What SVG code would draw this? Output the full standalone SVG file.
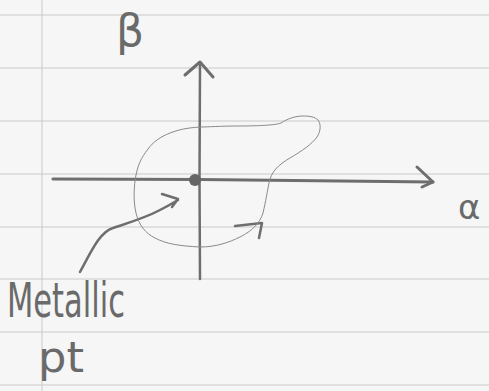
<svg xmlns="http://www.w3.org/2000/svg" width="489" height="391" viewBox="0 0 489 391">
<style>
.rule{stroke:#cacaca;stroke-width:1;fill:none}
.pen{stroke:#6e6e6e;fill:none;stroke-linecap:round;stroke-linejoin:round}
.thin{stroke:#8a8a8a;stroke-width:1;fill:none}
.hand{font-family:"DejaVu Sans","Liberation Sans",sans-serif;fill:#6a6a6a}
</style>
<rect width="489" height="391" fill="#f6f6f6"/>
<g id="paper">
<path class="rule" d="M0 15H489M0 68H489M0 121H489M0 174H489M0 227H489M0 279H489M0 332H489M0 385H489"/>
<line class="rule" x1="42" y1="0" x2="42" y2="391"/>
</g>
<g id="connectors">
<path class="pen" stroke-width="3" d="M53 179 L200 179.5 L433 182"/>
<path class="pen" stroke-width="3" d="M417 167 L433 182 L422 187"/>
<path class="pen" stroke-width="2.5" d="M200 64 L199.5 180 L200 279"/>
<path class="pen" stroke-width="3" d="M185 75 L200 62 L213 77"/>
<path class="pen" stroke-width="2.5" d="M80 272 C92 250 100 232 113 228 C128 223 145 218 160 210 C168 206 173 203 178 200 M162 194 L178 199 L172 207"/>
<path class="pen" stroke-width="2.5" d="M235 226 L262 223 L259 238"/>
</g>
<g id="region">
<path class="thin" d="M200 127 C185 128 178 130 170 133 C160 137 153 142 148 149 C141 158 138 165 136 175 C134 185 133 200 136 213 C139 225 145 233 155 238 C166 244 180 246 200 247 C215 247 228 243 240 237 C252 231 260 223 263 213 C266 200 267 193 269 183 C271 172 278 165 290 158 C302 151 312 144 317 137 C321 131 321 124 318 120 C315 117 310 116 303 116 C295 116 287 119 281 123 C276 125 260 126 237 126 C220 126 210 127 200 127 Z"/>
</g>
<g id="origin">
<circle cx="195" cy="180" r="6" fill="#666666"/>
</g>
<g id="labels">
<text class="hand" x="116" y="46" font-size="44">β</text>
<text class="hand" x="458" y="219" font-size="34">α</text>
<text class="hand" x="7" y="317" font-size="48" textLength="118" lengthAdjust="spacingAndGlyphs">Metallic</text>
<text class="hand" x="38" y="372" font-size="42" textLength="46" lengthAdjust="spacingAndGlyphs">pt</text>
</g>
</svg>
